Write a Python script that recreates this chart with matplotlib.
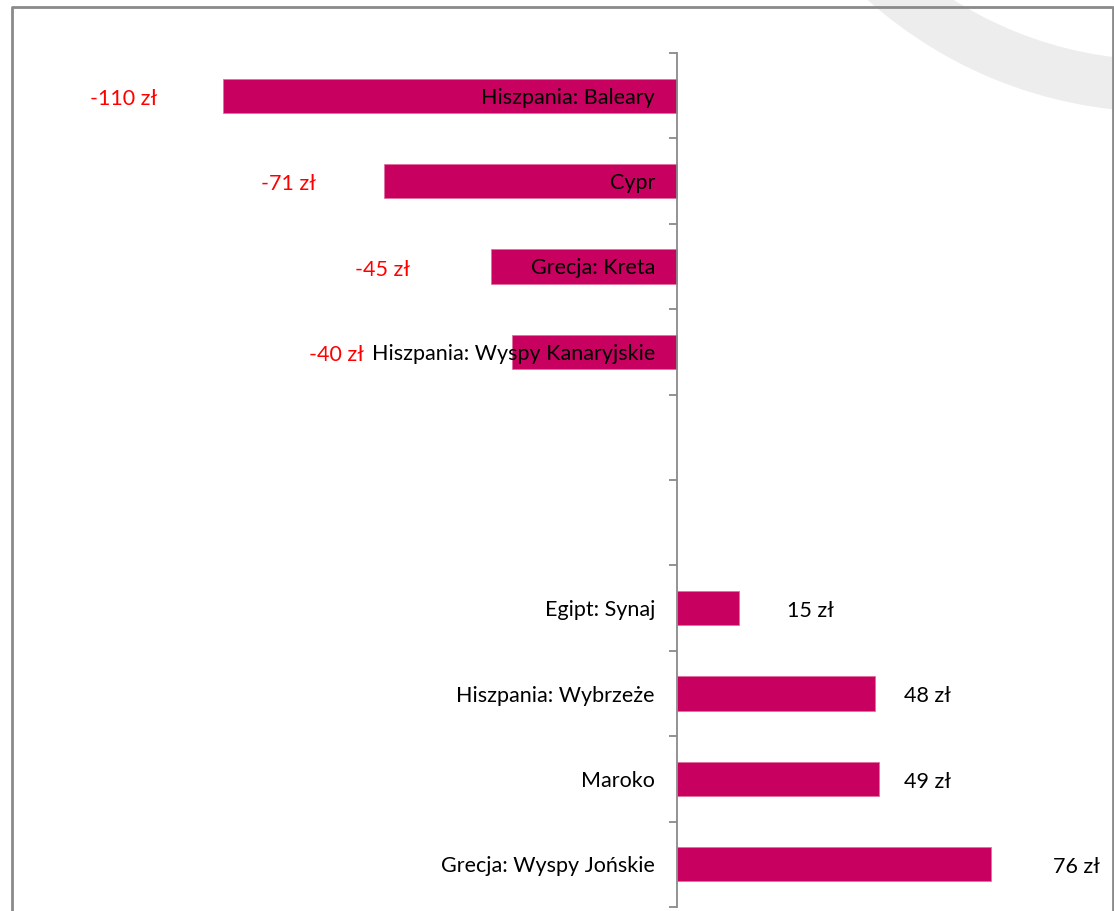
import matplotlib.pyplot as plt
from matplotlib.patches import Wedge

# categories top to bottom, two empty slots in the middle
categories = ["Hiszpania: Baleary", "Cypr", "Grecja: Kreta", "Hiszpania: Wyspy Kanaryjskie",
              "", "",
              "Egipt: Synaj", "Hiszpania: Wybrzeże", "Maroko", "Grecja: Wyspy Jońskie"]
values = [-110, -71, -45, -40, None, None, 15, 48, 49, 76]
value_labels = ["-110 zł", "-71 zł", "-45 zł", "-40 zł", "", "", "15 zł", "48 zł", "49 zł", "76 zł"]
# gap (px) between bar end and its value label, as placed by hand in the original
label_gap = [66, 68, 81, 148, 0, 0, 48, 29, 25, 62]

W, H = 1114, 911
plt.rcParams['font.family'] = ['Lato', 'DejaVu Sans']
fig = plt.figure(figsize=(W / 100, H / 100), dpi=100)

# background: frame + grey ring
bg = fig.add_axes([0, 0, 1, 1], zorder=0)
bg.set_xlim(0, W)
bg.set_ylim(H, 0)
bg.axis('off')
bg.add_patch(Wedge((1161, -328), 440, 0, 360, width=52, color='#ededed', lw=0))
bg.plot([12, 12, 1113, 1113], [H + 5, 7, 7, H + 5], color='#8a8a8a', lw=2)

# main axes: x=0 sits at pixel 677, 4.13 px per zł
px = 4.13
xmin, xmax = -120, 100
left = 677 + xmin * px
right = 677 + xmax * px
ax = fig.add_axes([left / W, (H - 907) / H, (right - left) / W, (907 - 53) / H], zorder=1)
ax.patch.set_alpha(0)

for i, v in enumerate(values):
    if v is None:
        continue
    ax.barh(i, v, height=0.4, color='#c80060', edgecolor='#e070a0', linewidth=0.6)

ax.set_xlim(xmin, xmax)
ax.set_ylim(len(categories) - 0.5, -0.5)

for s in ['top', 'right', 'bottom']:
    ax.spines[s].set_visible(False)
ax.spines['left'].set_position(('data', 0))
ax.spines['left'].set_color('#8a8a8a')
ax.spines['left'].set_linewidth(1.3)
ax.set_xticks([])
ax.set_yticks([i - 0.5 for i in range(len(categories) + 1)])
ax.set_yticklabels([])
ax.tick_params(axis='y', direction='out', length=6, color='#8a8a8a', width=1.3)

# category names, right-aligned just left of the axis
for i, name in enumerate(categories):
    if name:
        ax.annotate(name, xy=(0, i), xytext=(-22, -2), textcoords='offset pixels',
                    ha='right', va='center', fontsize=15.5, color='black', zorder=5)

# value labels
for i, v in enumerate(values):
    if v is None:
        continue
    if v < 0:
        ax.annotate(value_labels[i], xy=(v, i), xytext=(-label_gap[i], -3), textcoords='offset pixels',
                    ha='right', va='center', fontsize=15.5, color='#ff0000')
    else:
        ax.annotate(value_labels[i], xy=(v, i), xytext=(label_gap[i], -3), textcoords='offset pixels',
                    ha='left', va='center', fontsize=15.5, color='black')

fig.savefig('out.png', dpi=100)
